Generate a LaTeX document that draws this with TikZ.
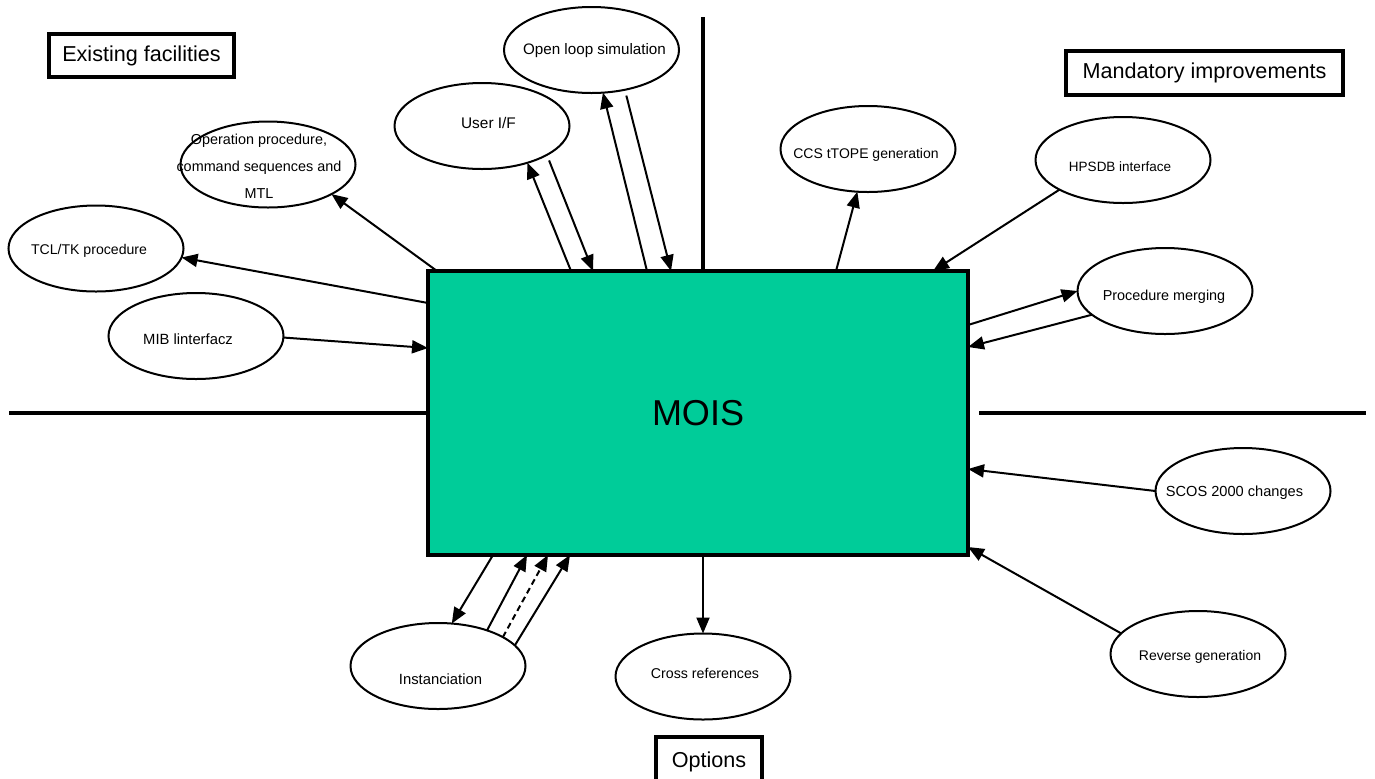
\documentclass[tikz,border=0pt]{standalone}
\usepackage{fontspec}
\setmainfont{Liberation Sans}
\usetikzlibrary{arrows.meta,shapes.geometric,calc}
\definecolor{moisgreen}{RGB}{0,204,153}

\begin{document}
\begin{tikzpicture}[x=0.5pt,y=-0.5pt,
  mainbox/.style={rectangle,draw,fill=moisgreen,line width=1.8pt,inner sep=0pt,outer sep=0pt,
    minimum width=270pt,minimum height=142pt,font=\fontsize{18}{22}\selectfont},
  bubble/.style={ellipse,draw,line width=1pt,inner sep=0pt,outer sep=0pt,
    minimum width=87.5pt,minimum height=43pt},
  btext/.style={inner sep=0pt,font=\fontsize{#1}{9}\selectfont},
  btext/.default=7.2,
  tag/.style={rectangle,draw,line width=2pt,inner sep=0pt,font=\fontsize{10.8}{13}\selectfont},
  link/.style={line width=1pt,-{Triangle[length=8pt,width=6.5pt]}},
  sepline/.style={line width=2.3pt}]

\useasboundingbox (0,0) rectangle (1375,778);

% central block
\node[mainbox] (mois) at (698,413) {MOIS};

% area separators
\coordinate (sepL) at (9,413);
\coordinate (sepR1) at (979,413);
\coordinate (sepR2) at (1366,413);
\coordinate (sepT) at (703,17);
\draw[sepline] (sepL) -- ($(mois.north west)+(0,142)$);
\draw[sepline] (sepR1) -- (sepR2);
\draw[sepline] (sepT) -- ($(mois.north west)+(275,0)$);

% area titles
\node[tag,minimum width=92.5pt,minimum height=21.5pt] (exist) at (141.5,55.5) {Existing facilities};
\node[tag,minimum width=138.5pt,minimum height=22pt] (mand) at (1204.5,73) {Mandatory improvements};
\node[tag,minimum width=53pt,minimum height=25pt] (opts) at (709,762) {Options};

% topics
\node[bubble] (op) at (268,164.5) {};
\node[bubble] (tcl) at (96,248.5) {};
\node[bubble] (mib) at (196,336) {};
\node[bubble] (uif) at (482,126) {};
\node[bubble] (olp) at (591.5,50) {};
\node[bubble] (ccs) at (868,149) {};
\node[bubble] (hps) at (1123,160) {};
\node[bubble] (prm) at (1165,291) {};
\node[bubble] (scos) at (1243,491) {};
\node[bubble] (rev) at (1198,654) {};
\node[bubble] (ins) at (438,666) {};
\node[bubble] (crf) at (703,676.5) {};

\node[inner sep=0pt,align=center,font=\fontsize{7.2}{13.5}\selectfont] (op-t) at (259,166)
  {Operation procedure,\\command sequences and\\MTL};
\node[btext=7.05] (tcl-t) at (89,251) {TCL/TK procedure};
\node[btext=7.4] (mib-t) at (188,339) {MIB linterfacz};
\node[btext=7.7] (uif-t) at (488.5,123) {User I/F};
\node[btext=7.6] (olp-t) at (594.5,51) {Open loop simulation};
\node[btext=7.0] (ccs-t) at (866,155) {CCS tTOPE generation};
\node[btext=6.75] (hps-t) at (1120,167) {HPSDB interface};
\node[btext=7.2] (prm-t) at (1164,297) {Procedure merging};
\node[btext=7.3] (scos-t) at (1234.5,493) {SCOS 2000 changes};
\node[btext=7.0] (rev-t) at (1200,657) {Reverse generation};
\node[btext=7.4] (ins-t) at (440.5,679) {Instanciation};
\node[btext=7.1] (crf-t) at (705,673) {Cross references};

% connectors
\draw[link] ($(mois.north west)+(9,0)$) -- (op.-25.8);
\draw[link] ($(mois.north west)+(0,32)$) -- (tcl.-6.1);
\draw[link] (mib.-1) -- ($(mois.north west)+(0,77)$);
\draw[link] ($(mois.north west)+(143,0)$) -- (uif.-39.4);
\draw[link,shorten <=3pt] (uif.-24.6) -- ($(mois.north west)+(165,0)$);
\draw[link] ($(mois.north west)+(219,0)$) -- (olp.-75.7);
\draw[link,shorten <=3pt] (olp.-50.5) -- ($(mois.north west)+(243,0)$);
\draw[link] ($(mois.north west)+(408,0)$) -- (ccs.-104);
\draw[link] (hps.205.7) -- ($(mois.north west)+(505,0)$);
\draw[link] ($(mois.north east)+(0,54)$) -- (prm.180);
\draw[link] (prm.198.2) -- ($(mois.north east)+(0,76)$);
\draw[link] (scos.180) -- ($(mois.north east)+(0,198)$);
\draw[link] (rev.165.3) -- ($(mois.north east)+(0,276)$);
\draw[link] ($(mois.south west)+(65,0)$) -- (ins.72);
\draw[link] (ins.36.3) -- ($(mois.south west)+(99,0)$);
\draw[link,dash pattern=on 3pt off 2pt] (ins.24.8) -- ($(mois.south west)+(120,0)$);
\draw[link] (ins.15.3) -- ($(mois.south west)+(142,0)$);
\draw[link] ($(mois.south west)+(275,0)$) -- (crf.north);

\end{tikzpicture}
\end{document}
